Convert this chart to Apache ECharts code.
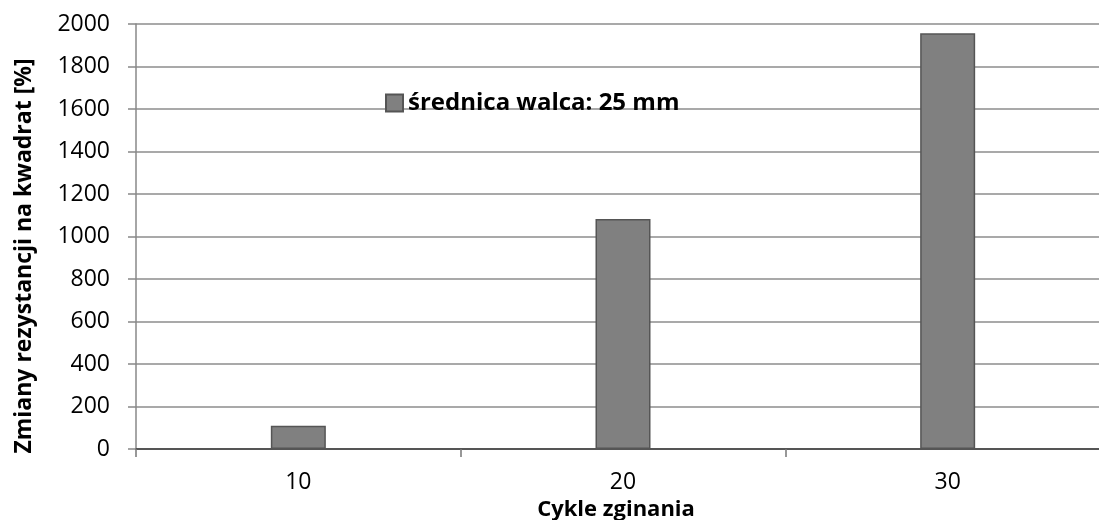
<!DOCTYPE html>
<html><head><meta charset="utf-8">
<script src="https://cdn.jsdelivr.net/npm/echarts@6/dist/echarts.min.js"></script>
<style>html,body{margin:0;padding:0;background:#fff}#c{width:1099px;height:520px}</style>
</head><body><div id="c"></div>
<script>
const categories = ['10', '20', '30'];
const seriesName = 'średnica walca: 25 mm';
const values = [110, 1082, 1956];
const yTicks = { min: 0, max: 2000, interval: 200 };
const xAxisName = 'Cykle zginania';
const yAxisName = 'Zmiany rezystancji na kwadrat [%]';

const FONT = 'Open Sans';
const chart = echarts.init(document.getElementById('c'), null, { renderer: 'canvas' });
chart.setOption({
  animation: false,
  backgroundColor: '#fff',
  textStyle: { fontFamily: FONT },
  grid: { left: 136, top: 24, width: 974, height: 425, containLabel: false, outerBoundsMode: 'none' },
  legend: {
    left: 385, top: 91, padding: 0, itemWidth: 17, itemHeight: 17,
    icon: 'rect',
    textStyle: { fontFamily: FONT, fontSize: 24, fontWeight: 'bold', color: '#000' },
    data: [seriesName]
  },
  xAxis: {
    type: 'category', data: categories, boundaryGap: true,
    name: xAxisName, nameLocation: 'middle', nameGap: 49,
    nameTextStyle: { fontFamily: FONT, fontSize: 22, fontWeight: 'bold', color: '#000', padding: [0, 14, 0, 0] },
    axisLine: { lineStyle: { color: '#555', width: 2 } },
    axisTick: { show: true, alignWithLabel: false, length: 8, lineStyle: { color: '#777', width: 1.5 } },
    axisLabel: { fontFamily: FONT, fontSize: 23, color: '#000', margin: 22 }
  },
  yAxis: {
    type: 'value', min: yTicks.min, max: yTicks.max, interval: yTicks.interval,
    name: yAxisName, nameLocation: 'middle', nameGap: 100,
    nameTextStyle: { fontFamily: FONT, fontSize: 23, fontWeight: 'bold', color: '#000', padding: [0, 39, 0, 0] },
    axisLine: { show: true, lineStyle: { color: '#888', width: 1.5 } },
    axisTick: { show: true, length: 8, lineStyle: { color: '#888', width: 1.5 } },
    axisLabel: { fontFamily: FONT, fontSize: 23, color: '#000', margin: 26, formatter: v => String(v) },
    splitLine: { show: true, lineStyle: { color: '#8c8c8c', width: 1.5 } }
  },
  series: [{
    name: seriesName, type: 'bar', data: values, barWidth: 55,
    itemStyle: { color: '#808080', borderColor: '#555', borderWidth: 1.5 }
  }]
});
</script></body></html>
